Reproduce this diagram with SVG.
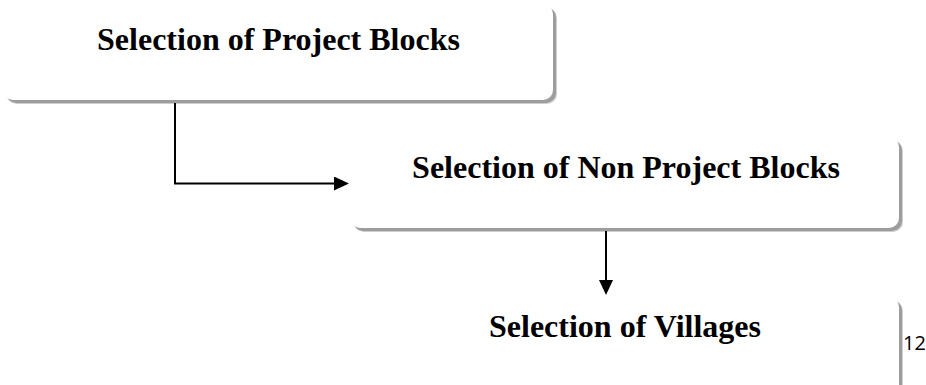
<svg xmlns="http://www.w3.org/2000/svg" width="926" height="385" viewBox="0 0 926 385">
  <style>
    .shadow { fill: #9d9d9d; }
    .shadow2 { fill: #cfcfcf; }
    .box { fill: #ffffff; }
    .title { font-family: "Liberation Serif", "Times New Roman", serif; font-weight: bold; font-size: 32px; fill: #000000; text-anchor: middle; }
    .conn { fill: none; stroke: #000000; stroke-width: 2; }
    .pg { font-family: "Open Sans", "Liberation Sans", sans-serif; font-size: 20px; fill: #000000; }
  </style>
  <defs>
    <marker id="arrow" markerUnits="userSpaceOnUse" markerWidth="16" markerHeight="14" refX="1" refY="7" orient="auto">
      <path d="M0,0 L15,7 L0,14 z" fill="#000000"/>
    </marker>
  </defs>
  <rect width="926" height="385" fill="#ffffff"/>

  <g id="node-project-blocks">
    <rect class="shadow2" x="7" y="8" width="550" height="96" rx="10"/>
    <rect class="shadow" x="6" y="7" width="550" height="96" rx="10"/>
    <rect class="box" x="3" y="4" width="550" height="96" rx="10"/>
    <text class="title" x="278.5" y="50">Selection of Project Blocks</text>
  </g>

  <g id="node-non-project-blocks">
    <rect class="shadow2" x="354" y="141" width="549" height="91" rx="10"/>
    <rect class="shadow" x="353" y="140" width="549" height="91" rx="10"/>
    <rect class="box" x="350" y="137" width="549" height="91" rx="10"/>
    <text class="title" x="626" y="178">Selection of Non Project Blocks</text>
  </g>

  <g id="node-villages">
    <rect class="shadow2" x="354" y="301" width="549" height="120" rx="10"/>
    <rect class="shadow" x="353" y="300" width="549" height="120" rx="10"/>
    <rect class="box" x="350" y="297" width="549" height="120" rx="10"/>
    <text class="title" x="625" y="337">Selection of Villages</text>
  </g>

  <g id="connectors">
    <path class="conn" d="M175,103 V183.5 H335" marker-end="url(#arrow)"/>
    <path class="conn" d="M606,231 V281" marker-end="url(#arrow)"/>
  </g>

  <text class="pg" x="903" y="350">12</text>
</svg>
